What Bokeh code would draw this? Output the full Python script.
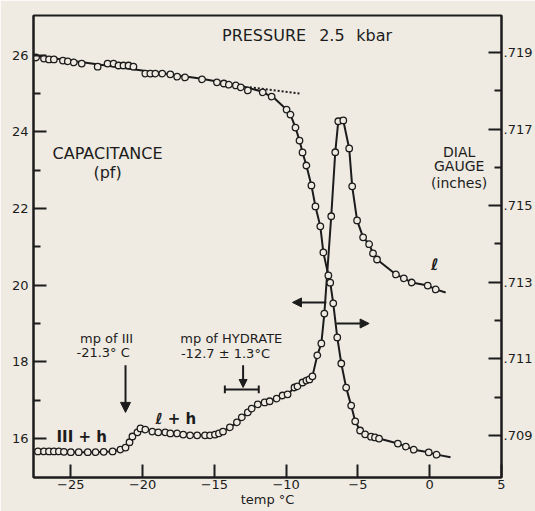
from bokeh.plotting import figure
from bokeh.models import (Range1d, LinearAxis, FixedTicker, CustomJSTickFormatter,
                          Arrow, NormalHead, Label)
from bokeh.embed import file_html
from bokeh.resources import INLINE

# ---------------- data ----------------
# capacitance (pf), read against the left axis
cap_temp = [-27.29, -26.87, -26.52, -26.18, -25.83, -25.48, -25.0, -24.45, -23.82, -23.27,
            -22.71, -22.09, -21.54, -21.19, -20.91, -20.71, -20.36, -20.15, -19.81, -19.32,
            -18.91, -18.42, -18.07, -17.59, -17.17, -16.69, -16.2, -15.65, -15.3, -14.96,
            -14.68, -14.40, -13.92, -13.43, -13.09, -12.67, -12.40, -11.98, -11.50, -11.15,
            -10.66, -10.25, -9.90, -9.42, -9.21, -8.86, -8.59, -8.38, -8.17, -7.83,
            -7.55, -7.34, -6.86, -6.58, -6.37, -6.02, -5.61, -5.40, -5.06, -4.64,
            -4.22, -3.95, -3.67, -2.35, -1.80, -1.25, -0.14, 0.42]
cap_pf = [15.66, 15.66, 15.66, 15.66, 15.66, 15.65, 15.64, 15.64, 15.64, 15.64,
          15.65, 15.66, 15.71, 15.76, 15.90, 16.05, 16.16, 16.26, 16.23, 16.18,
          16.16, 16.16, 16.13, 16.13, 16.10, 16.08, 16.08, 16.08, 16.08, 16.10,
          16.13, 16.18, 16.29, 16.42, 16.55, 16.68, 16.78, 16.89, 16.94, 16.97,
          17.04, 17.12, 17.15, 17.33, 17.36, 17.46, 17.51, 17.54, 17.62, 18.17,
          18.48, 19.26, 21.80, 23.47, 24.28, 24.30, 23.57, 22.58, 21.69, 21.25,
          21.07, 20.83, 20.67, 20.28, 20.18, 20.07, 19.99, 19.89]
# drawn curve through the capacitance points
cap_curve_temp = [-27.6] + cap_temp[:55] + [-6.2] + cap_temp[55:] + [1.11]
cap_curve_pf = [15.66] + cap_pf[:55] + [24.36] + cap_pf[55:] + [19.81]

# dial gauge (inches), read against the right axis
dial_temp = [-27.42, -26.87, -26.52, -26.18, -25.55, -25.21, -24.79, -24.24, -23.13, -22.44,
             -22.02, -21.68, -21.33, -20.98, -20.64, -19.81, -19.46, -19.11, -18.63, -18.07,
             -17.59, -17.04, -15.86, -14.82, -14.34, -13.99, -13.50, -13.16, -12.67, -11.63,
             -11.01, -9.97, -9.70, -9.35, -9.07, -8.86, -8.59, -8.24, -7.96, -7.62,
             -7.41, -7.06, -6.93, -6.72, -6.44, -6.16, -5.82, -5.47, -5.19, -4.85,
             -4.50, -4.09, -3.81, -3.53, -2.22, -1.66, -1.11, -0.07, 0.48]
dial_in = [0.71887, 0.71884, 0.71882, 0.71882, 0.71879, 0.71877, 0.71874, 0.71871, 0.71863, 0.71871,
           0.71871, 0.71866, 0.71866, 0.71866, 0.71863, 0.71845, 0.71845, 0.71845, 0.71845, 0.71843,
           0.71837, 0.71835, 0.71830, 0.71822, 0.71819, 0.71816, 0.71814, 0.71809, 0.71801, 0.71796,
           0.71785, 0.71751, 0.71738, 0.71704, 0.71670, 0.71639, 0.71605, 0.71553, 0.71498, 0.71446,
           0.71378, 0.71318, 0.71299, 0.71245, 0.71156, 0.71088, 0.71025, 0.70978, 0.70937, 0.70913,
           0.70903, 0.70897, 0.70895, 0.70892, 0.70879, 0.70871, 0.70863, 0.70856, 0.70850]
dial_curve_temp = [-27.6, -21.54, -16.0, -13.23, -11.70, -10.80, -10.11] + dial_temp[32:] + [1.45]
dial_curve_in = [0.71892, 0.71861, 0.71832, 0.71814, 0.71798, 0.71780, 0.71756] + dial_in[32:] + [0.70843]
# dotted extrapolation of the dial-gauge base line
dotted_temp = [-12.53, -9.07]
dotted_in = [0.71809, 0.71793]

x_ticks = [-25, -20, -15, -10, -5, 0, 5]
cap_ticks = [16, 18, 20, 22, 24, 26]
cap_minor = [17, 19, 21, 23, 25]
dial_ticks = [0.709, 0.711, 0.713, 0.715, 0.717, 0.719]
dial_minor = [0.710, 0.712, 0.714, 0.716, 0.718]

# ---------------- style ----------------
BG = "#efebe2"
INK = "#1c1c1c"
FONT = "DejaVu Sans"

p = figure(width=535, height=511, output_backend="svg", toolbar_location=None,
           x_range=Range1d(-27.6, 5.0), y_range=Range1d(14.98, 27.04),
           min_border_left=33, min_border_right=33, min_border_top=15, min_border_bottom=34,
           background_fill_color=BG, border_fill_color=BG,
           outline_line_color=INK, outline_line_width=2)
p.extra_y_ranges = {"dial": Range1d(0.707903, 0.719966)}
p.xgrid.visible = False
p.ygrid.visible = False

def style_axis(ax, fsize="13px", font=FONT, standoff=4):
    ax.axis_line_color = INK
    ax.axis_line_width = 2
    ax.major_tick_line_color = INK
    ax.major_tick_line_width = 2
    ax.minor_tick_line_color = INK
    ax.minor_tick_line_width = 2
    ax.major_tick_in = 13
    ax.major_tick_out = 0
    ax.minor_tick_in = 7
    ax.minor_tick_out = 0
    ax.major_label_text_font = font
    ax.major_label_text_font_size = fsize
    ax.major_label_text_color = INK
    ax.major_label_standoff = standoff

xa = p.xaxis[0]
xa.ticker = FixedTicker(ticks=x_ticks, minor_ticks=[])
style_axis(xa, standoff=2)
xa.axis_label = "temp °C"
xa.axis_label_text_font = FONT
xa.axis_label_text_font_size = "13px"
xa.axis_label_text_font_style = "normal"
xa.axis_label_text_color = INK
xa.axis_label_standoff = 0

ya = p.yaxis[0]
ya.ticker = FixedTicker(ticks=cap_ticks, minor_ticks=cap_minor)
style_axis(ya, standoff=5)

ra = LinearAxis(y_range_name="dial")
ra.ticker = FixedTicker(ticks=dial_ticks, minor_ticks=dial_minor)
ra.formatter = CustomJSTickFormatter(code="return tick.toFixed(3).replace(/^0/, '');")
style_axis(ra, fsize="13px", standoff=2)
p.add_layout(ra, "right")

# curves
p.line(cap_curve_temp, cap_curve_pf, line_color=INK, line_width=2)
p.scatter(cap_temp, cap_pf, marker="circle", size=6.5, fill_color=BG, line_color=INK, line_width=1.3)

p.line(dial_curve_temp, dial_curve_in, line_color=INK, line_width=2, y_range_name="dial")
p.line(dotted_temp, dotted_in, line_color=INK, line_width=2, line_dash="2 2", y_range_name="dial")
p.scatter(dial_temp, dial_in, marker="circle", size=6.5, fill_color=BG, line_color=INK,
          line_width=1.3, y_range_name="dial")

# annotations
def lab(x, y, text, size="13px", align="center", style="normal", baseline="middle"):
    p.add_layout(Label(x=x, y=y, text=text, text_font=FONT, text_font_size=size,
                       text_align=align, text_baseline=baseline, text_color=INK,
                       text_font_style=style))

lab(-14.47, 26.52, "PRESSURE", size="16px", align="left")
lab(-7.70, 26.52, "2.5", size="16px", align="left")
lab(-5.12, 26.52, "kbar", size="16px", align="left")
lab(-22.44, 23.44, "CAPACITANCE", size="16px")
lab(-22.44, 22.95, "(pf)", size="16px")
lab(2.05, 23.47, "DIAL", size="14px")
lab(2.05, 23.10, "GAUGE", size="14px")
lab(2.05, 22.66, "(inches)", size="14px")
lab(-22.51, 18.61, "mp of III", size="13px")
lab(-22.75, 18.25, "-21.3° C", size="13px")
lab(-13.82, 18.61, "mp of HYDRATE", size="13px")
lab(-14.23, 18.22, "-12.7 ± 1.3°C", size="13px")
lab(-24.24, 16.05, "III + h", size="15px", style="bold")
lab(-17.69, 16.52, "ℓ + h", size="15px", style="bold")
lab(0.35, 20.54, "ℓ", size="16px", style="bold")

def arrow(x0, y0, x1, y1, size=9):
    p.add_layout(Arrow(end=NormalHead(size=size, fill_color=INK, line_color=INK, line_width=1),
                       x_start=x0, y_start=y0, x_end=x1, y_end=y1,
                       line_color=INK, line_width=2))

arrow(-21.19, 17.91, -21.19, 16.68, size=10)
arrow(-13.0, 17.91, -13.0, 17.33, size=8)
arrow(-7.20, 19.55, -9.56, 19.55, size=9)
arrow(-6.51, 19.0, -4.22, 19.0, size=9)

# hydrate melting-point range bar
p.segment(x0=[-14.27, -14.27, -11.91], y0=[17.28, 17.18, 17.18],
          x1=[-11.91, -14.27, -11.91], y1=[17.28, 17.38, 17.38],
          line_color=INK, line_width=2)

open("out.html", "w").write(file_html(p, INLINE))
